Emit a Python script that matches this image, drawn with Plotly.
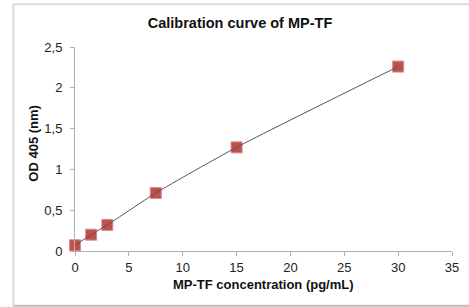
import plotly.graph_objects as go

concentration = [0, 1.5, 3, 7.5, 15, 30]
od405 = [0.07, 0.2, 0.32, 0.71, 1.27, 2.26]
x_ticks = [0, 5, 10, 15, 20, 25, 30, 35]
y_ticks = [0, 0.5, 1, 1.5, 2, 2.5]

W, H = 469, 307
L, R, T, B = 74.7, 17, 46.7, 56.3
pw, ph = W - L - R, H - T - B

def px2x(px):
    return (px - L) / pw

def py2y(py):
    return (H - B - py) / ph

fig = go.Figure()
fig.add_trace(go.Scatter(
    x=concentration, y=od405, mode="markers",
    marker=dict(symbol="square", size=11, color="#C0504D",
                line=dict(color="#D98B89", width=1)),
    showlegend=False, cliponaxis=False))
fig.add_trace(go.Scatter(
    x=concentration, y=od405, mode="lines",
    line=dict(color="#555555", width=1, shape="spline", smoothing=0.6),
    showlegend=False, cliponaxis=False))

frame_color = "#D9D9D9"
fig.add_shape(type="line", xref="paper", yref="paper",
              x0=px2x(13), x1=px2x(13), y0=py2y(4), y1=py2y(305.5),
              line=dict(color=frame_color, width=2))
fig.add_shape(type="line", xref="paper", yref="paper",
              x0=px2x(13), x1=px2x(475), y0=py2y(4), y1=py2y(4),
              line=dict(color=frame_color, width=2))
fig.add_shape(type="line", xref="paper", yref="paper",
              x0=px2x(13), x1=px2x(475), y0=py2y(305.5), y1=py2y(305.5),
              line=dict(color="#BFBFBF", width=2))

fig.add_annotation(text="<b>MP-TF concentration (pg/mL)</b>", xref="paper", yref="paper",
                   x=px2x(263), y=py2y(284), xanchor="center", yanchor="middle",
                   showarrow=False, font=dict(size=13, color="#111111"))
fig.add_annotation(text="<b>OD 405 (nm)</b>", xref="paper", yref="paper",
                   x=px2x(33), y=py2y(143), xanchor="center", yanchor="middle",
                   textangle=-90, showarrow=False, font=dict(size=13, color="#111111"))

fig.update_layout(
    width=W, height=H,
    margin=dict(l=L, r=R, t=T, b=B, pad=0, autoexpand=False),
    paper_bgcolor="white", plot_bgcolor="white",
    separators=",.",
    font=dict(family="Liberation Sans, Arial, sans-serif", size=12, color="#222222"),
    title=dict(text="<b>Calibration curve of MP-TF</b>", x=240 / W,
               xanchor="center", y=1 - 23 / H, yanchor="middle",
               font=dict(size=14.5, color="#111111")),
    xaxis=dict(range=[0, 35], tickvals=x_ticks, showgrid=False, zeroline=False,
               showline=True, linecolor="#B0B0B0", linewidth=1, automargin=False,
               ticks="outside", ticklen=4, tickcolor="#B0B0B0",
               tickfont=dict(size=13)),
    yaxis=dict(range=[0, 2.5], tickvals=y_ticks, showgrid=False, zeroline=False,
               showline=True, linecolor="#B0B0B0", linewidth=1, automargin=False,
               ticks="outside", ticklen=4, tickcolor="#B0B0B0",
               ticklabelstandoff=5, tickfont=dict(size=13)),
)

fig.write_html("out.html", config={"displayModeBar": False},
               post_script="document.body.style.margin='0';document.body.style.overflow='hidden';")
